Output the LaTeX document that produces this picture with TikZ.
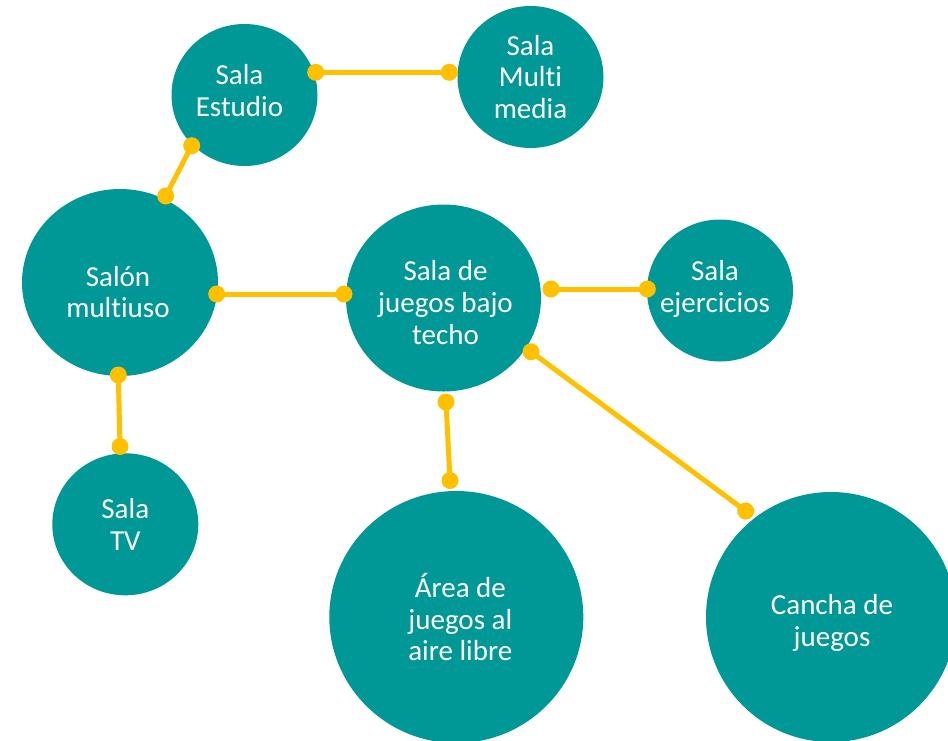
\documentclass[tikz,border=0pt]{standalone}
\usepackage{fontspec}
\setmainfont{Carlito}[Ligatures=NoCommon]
\usetikzlibrary{shapes.geometric}
\definecolor{teal}{RGB}{0,152,150}
\definecolor{gold}{RGB}{255,192,0}
\begin{document}
\begin{tikzpicture}[x=1pt,y=-1pt,
  room/.style={ellipse,fill=teal,draw=none,inner sep=0pt},
  lbl/.style={text=white,align=center,inner sep=0pt,font=\fontsize{29}{31.7}\selectfont},
  link/.style={draw=gold,line width=5pt},
  dot/.style={fill=gold,draw=none}]
\useasboundingbox (0,0) rectangle (948,740);
\clip (0,0) rectangle (948,740);
\node[room,minimum width=146pt,minimum height=142pt] (est) at (244.5,95) {};
\node[room,minimum width=146pt,minimum height=142pt] (mm) at (530.5,77) {};
\node[room,minimum width=196pt,minimum height=187pt] (sal) at (120,282.5) {};
\node[room,minimum width=195pt,minimum height=187pt] (jue) at (443.5,298) {};
\node[room,minimum width=146pt,minimum height=142pt] (eje) at (720,290.5) {};
\node[room,minimum width=146pt,minimum height=142pt] (tv) at (125.3,524.3) {};
\node[room,minimum width=254pt,minimum height=252pt] (area) at (456.3,617) {};
\node[room,minimum width=250pt,minimum height=250pt] (can) at (831,617) {};
\node[lbl,shift={(-5,-4.5)}] (estT) at (est) {Sala\\Estudio};
\node[lbl] (mmT) at (mm) {Sala\\Multi\\media};
\node[lbl,shift={(-2,9.5)}] (salT) at (sal) {Salón\\multiuso};
\node[lbl,shift={(2,4.5)}] (jueT) at (jue) {Sala de\\juegos bajo\\techo};
\node[lbl,shift={(-5,-1.5)}] (ejeT) at (eje) {Sala\\ejercicios};
\node[lbl] (tvT) at (tv) {Sala\\TV};
\node[lbl,shift={(4,0)}] (areaT) at (area) {Área de\\juegos al\\aire libre};
\node[lbl,shift={(1,6)}] (canT) at (can) {Cancha de\\juegos};
\coordinate (d1) at (315.7,72.3);
\coordinate (d2) at (449.3,72.3);
\coordinate (d3) at (191.7,145.7);
\coordinate (d4) at (165.7,196);
\coordinate (d5) at (216.7,294);
\coordinate (d6) at (344,294);
\coordinate (d7) at (551,289);
\coordinate (d8) at (647.3,289);
\coordinate (d9) at (118.3,375);
\coordinate (d10) at (120,446.5);
\coordinate (d11) at (446,402);
\coordinate (d12) at (450,480.5);
\coordinate (d13) at (531,351.7);
\coordinate (d14) at (745.7,511);
\foreach \a/\b in {d1/d2,d3/d4,d5/d6,d7/d8,d9/d10,d11/d12,d13/d14}{
  \draw[link] (\a) -- (\b);
  \fill[dot] (\a) circle (8.5pt);
  \fill[dot] (\b) circle (8.5pt);
}
\end{tikzpicture}
\end{document}
